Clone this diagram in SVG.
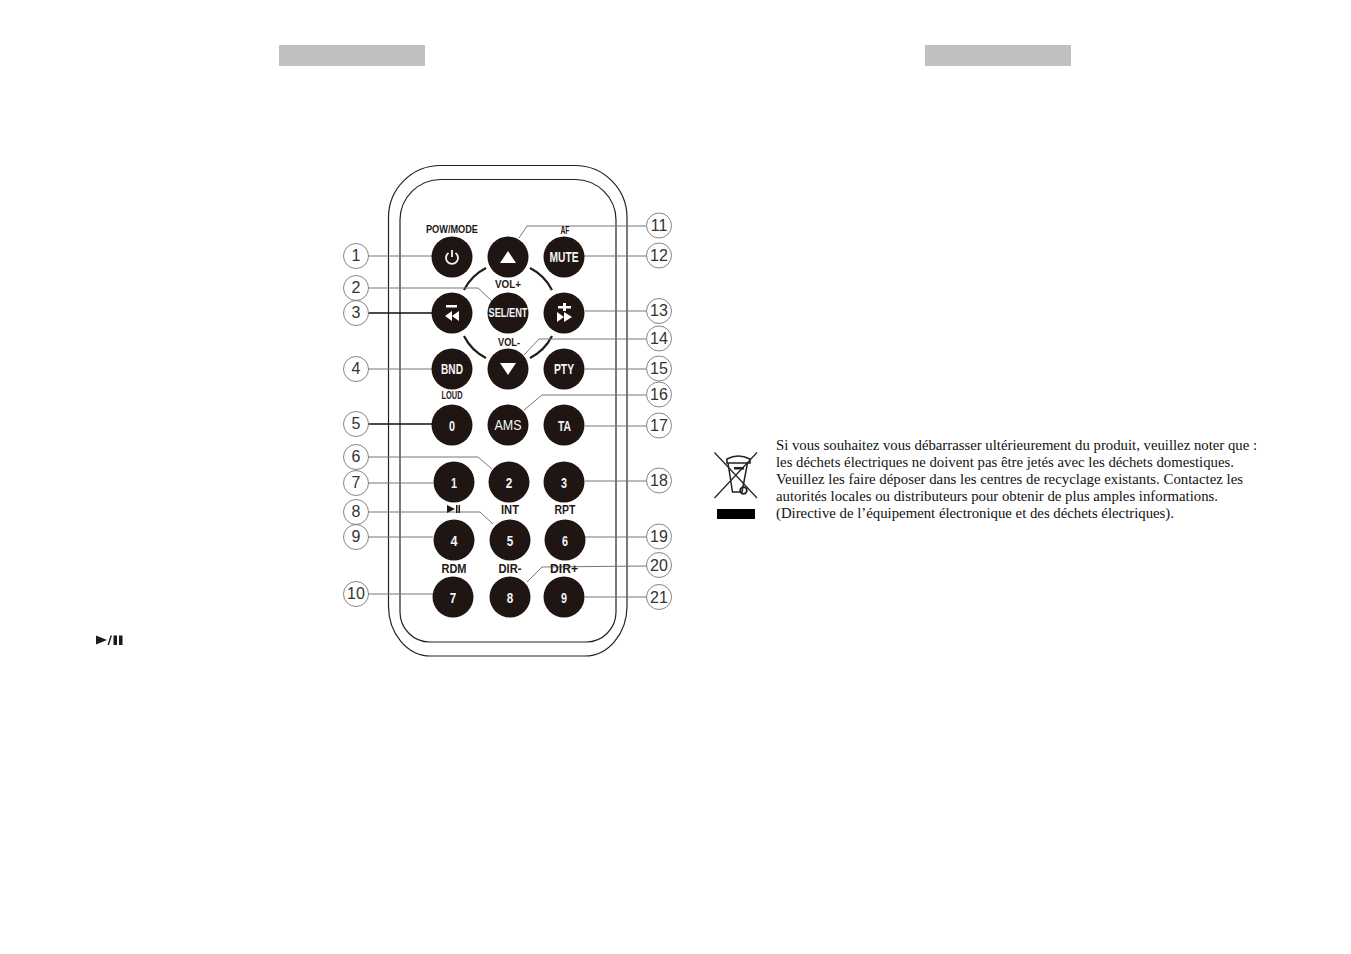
<svg xmlns="http://www.w3.org/2000/svg" width="1351" height="954" viewBox="0 0 1351 954">
<style>
.bar{fill:#c0c0c0}
.body{fill:none;stroke:#222;stroke-width:1.2}
.btn{fill:#1f1614}
.w{fill:#fff}
.bt{font-family:"Liberation Sans",Arial,sans-serif;font-weight:700;fill:#f4f4f4;text-anchor:middle}
.lb{font-family:"Liberation Sans",Arial,sans-serif;font-weight:700;fill:#231815;text-anchor:middle;font-size:11px}
.num{font-family:"Liberation Sans",Arial,sans-serif;fill:#333;text-anchor:middle;font-size:16px}
.co{fill:#fff;stroke:#666;stroke-width:.8}
.ln{fill:none;stroke:#777;stroke-width:1}
.dk{fill:none;stroke:#111;stroke-width:1.3}
.arc{fill:none;stroke:#231815;stroke-width:2.2}
.p{font-family:"Liberation Serif","Times New Roman",serif;font-size:14.5px;fill:#111}
</style>
<rect class="bar" x="279" y="45" width="146" height="21"/>
<rect class="bar" x="925" y="45" width="146" height="21"/>
<g id="remote-body">
<path class="body" d="M388.500 217A52 52 0 0 1 440.500 165.500H575A52 52 0 0 1 627 217V606A42 50 0 0 1 585 656H430.500A42 50 0 0 1 388.500 606Z"/>
<path class="body" d="M400 220A41 40.500 0 0 1 441 179.500H575A41 40.500 0 0 1 616 220V612A30 30 0 0 1 586 642H430A30 30 0 0 1 400 612Z"/>
<path class="arc" d="M486 268A50 50 0 0 0 464 290M530 268A50 50 0 0 1 552 290M464 336A50 50 0 0 0 486 358M552 336A50 50 0 0 1 530 358"/>
</g>
<g id="connectors">
<path class="ln" d="M368 256H432"/>
<path class="ln" d="M368 288H478L492 301"/>
<path class="dk" d="M368 313H432"/>
<path class="ln" d="M368 369H432"/>
<path class="dk" d="M368 424H432"/>
<path class="ln" d="M368 457H478L492 469"/>
<path class="ln" d="M368 483H433"/>
<path class="ln" d="M368 512H480L493 524"/>
<path class="ln" d="M368 537H433"/>
<path class="ln" d="M368 594H433"/>
<path class="ln" d="M646 226H527L519 238"/>
<path class="ln" d="M584 256H646"/>
<path class="ln" d="M585 311H646"/>
<path class="ln" d="M646 339H539L524 355"/>
<path class="ln" d="M585 369H646"/>
<path class="ln" d="M646 395H542L524 410"/>
<path class="ln" d="M585 426H647"/>
<path class="ln" d="M585 481H647"/>
<path class="ln" d="M585 537H647"/>
<path class="ln" d="M647 566L542 567L527 582"/>
<path class="ln" d="M585 597H647"/>
</g>
<g id="labels">
<text class="lb" x="452" y="233" textLength="52" lengthAdjust="spacingAndGlyphs">POW/MODE</text>
<text class="lb" x="565" y="234" textLength="9" lengthAdjust="spacingAndGlyphs">AF</text>
<text class="lb" x="508" y="288" textLength="26" lengthAdjust="spacingAndGlyphs">VOL+</text>
<text class="lb" x="509" y="346" textLength="22" lengthAdjust="spacingAndGlyphs">VOL-</text>
<text class="lb" x="452" y="399" textLength="21" lengthAdjust="spacingAndGlyphs">LOUD</text>
<text class="lb" x="510" y="514" textLength="18" lengthAdjust="spacingAndGlyphs" style="font-size:13px">INT</text>
<text class="lb" x="565" y="514" textLength="21" lengthAdjust="spacingAndGlyphs" style="font-size:13px">RPT</text>
<text class="lb" x="454" y="573" textLength="25" lengthAdjust="spacingAndGlyphs" style="font-size:13px">RDM</text>
<text class="lb" x="510" y="573" textLength="23" lengthAdjust="spacingAndGlyphs" style="font-size:13px">DIR-</text>
<text class="lb" x="564" y="573" textLength="28" lengthAdjust="spacingAndGlyphs" style="font-size:13px">DIR+</text>
<path fill="#231815" d="M447 505L455 509L447 513ZM456 505H457.500V513H456ZM458.500 505H460V513H458.500Z"/>
</g>
<g id="btn-power"><circle class="btn" cx="452" cy="257" r="20.500"/><path d="M448.500 253A6 6 0 1 0 455.500 253" fill="none" stroke="#f4f4f4" stroke-width="1.800"/><path d="M452 250V257" stroke="#f4f4f4" stroke-width="1.800"/></g>
<g id="btn-up"><circle class="btn" cx="508" cy="257" r="20.500"/><path class="w" d="M508 251L516 263H500Z"/></g>
<g id="btn-mute"><circle class="btn" cx="564" cy="257" r="20.500"/><text class="bt" x="564" y="262" font-size="14" textLength="29" lengthAdjust="spacingAndGlyphs">MUTE</text></g>
<g id="btn-prev"><circle class="btn" cx="452" cy="313" r="20.500"/><rect class="w" x="446" y="305" width="11" height="2.500"/><path class="w" d="M445 316L452 311V321ZM452 316L459 311V321Z"/></g>
<g id="btn-sel"><circle class="btn" cx="508" cy="313" r="20.500"/><text class="bt" x="508" y="317" font-size="12.500" textLength="39" lengthAdjust="spacingAndGlyphs">SEL/ENT</text></g>
<g id="btn-next"><circle class="btn" cx="564" cy="313" r="20.500"/><path class="w" d="M563 303H566V306H571V308.500H566V311H563V308.500H558V306H563ZM557 312L564 317L557 322ZM564 312L572 317L564 322Z"/></g>
<g id="btn-bnd"><circle class="btn" cx="452" cy="369" r="20.500"/><text class="bt" x="452" y="374" font-size="14" textLength="22" lengthAdjust="spacingAndGlyphs">BND</text></g>
<g id="btn-down"><circle class="btn" cx="508" cy="369" r="20.500"/><path class="w" d="M500 363H516L508 375Z"/></g>
<g id="btn-pty"><circle class="btn" cx="564" cy="369" r="20.500"/><text class="bt" x="564" y="374" font-size="14" textLength="20" lengthAdjust="spacingAndGlyphs">PTY</text></g>
<g id="btn-0"><circle class="btn" cx="452" cy="425" r="20.500"/><text class="bt" x="452" y="431" font-size="15" textLength="6" lengthAdjust="spacingAndGlyphs">0</text></g>
<g id="btn-ams"><circle class="btn" cx="508" cy="425" r="20.500"/><text class="bt" x="508" y="430" font-size="14" style="font-weight:400" textLength="27" lengthAdjust="spacingAndGlyphs">AMS</text></g>
<g id="btn-ta"><circle class="btn" cx="564" cy="425" r="20.500"/><text class="bt" x="564.500" y="430.500" font-size="15" textLength="13" lengthAdjust="spacingAndGlyphs">TA</text></g>
<g id="btn-1"><circle class="btn" cx="454" cy="482" r="20.500"/><text class="bt" x="454" y="487.500" font-size="15" textLength="6" lengthAdjust="spacingAndGlyphs">1</text></g>
<g id="btn-2"><circle class="btn" cx="509" cy="482" r="20.500"/><text class="bt" x="509" y="487.500" font-size="15" textLength="6.500" lengthAdjust="spacingAndGlyphs">2</text></g>
<g id="btn-3"><circle class="btn" cx="564" cy="482" r="20.500"/><text class="bt" x="564" y="487.500" font-size="15" textLength="6" lengthAdjust="spacingAndGlyphs">3</text></g>
<g id="btn-4"><circle class="btn" cx="454" cy="540" r="20.500"/><text class="bt" x="454" y="545.500" font-size="15" textLength="7" lengthAdjust="spacingAndGlyphs">4</text></g>
<g id="btn-5"><circle class="btn" cx="510" cy="540" r="20.500"/><text class="bt" x="510" y="545.500" font-size="15" textLength="6.500" lengthAdjust="spacingAndGlyphs">5</text></g>
<g id="btn-6"><circle class="btn" cx="565" cy="540" r="20.500"/><text class="bt" x="565" y="545.500" font-size="15" textLength="6" lengthAdjust="spacingAndGlyphs">6</text></g>
<g id="btn-7"><circle class="btn" cx="453" cy="597" r="20.500"/><text class="bt" x="453" y="602.500" font-size="15" textLength="6.500" lengthAdjust="spacingAndGlyphs">7</text></g>
<g id="btn-8"><circle class="btn" cx="510" cy="597" r="20.500"/><text class="bt" x="510" y="602.500" font-size="15" textLength="6.500" lengthAdjust="spacingAndGlyphs">8</text></g>
<g id="btn-9"><circle class="btn" cx="564" cy="597" r="20.500"/><text class="bt" x="564" y="602.500" font-size="15" textLength="6" lengthAdjust="spacingAndGlyphs">9</text></g>
<g id="c1"><circle class="co" cx="356" cy="256" r="12.500"/><text class="num" x="356" y="261">1</text></g>
<g id="c2"><circle class="co" cx="356" cy="288" r="12.500"/><text class="num" x="356" y="293">2</text></g>
<g id="c3"><circle class="co" cx="356" cy="313" r="12.500"/><text class="num" x="356" y="318">3</text></g>
<g id="c4"><circle class="co" cx="356" cy="369" r="12.500"/><text class="num" x="356" y="374">4</text></g>
<g id="c5"><circle class="co" cx="356" cy="424" r="12.500"/><text class="num" x="356" y="429">5</text></g>
<g id="c6"><circle class="co" cx="356" cy="457" r="12.500"/><text class="num" x="356" y="462">6</text></g>
<g id="c7"><circle class="co" cx="356" cy="483" r="12.500"/><text class="num" x="356" y="488">7</text></g>
<g id="c8"><circle class="co" cx="356" cy="512" r="12.500"/><text class="num" x="356" y="517">8</text></g>
<g id="c9"><circle class="co" cx="356" cy="537" r="12.500"/><text class="num" x="356" y="542">9</text></g>
<g id="c10"><circle class="co" cx="356" cy="594" r="12.500"/><text class="num" x="356" y="599">10</text></g>
<g id="c11"><circle class="co" cx="659" cy="225.500" r="12.500"/><text class="num" x="659" y="231">11</text></g>
<g id="c12"><circle class="co" cx="659" cy="255.500" r="12.500"/><text class="num" x="659" y="261">12</text></g>
<g id="c13"><circle class="co" cx="659" cy="311" r="12.500"/><text class="num" x="659" y="316">13</text></g>
<g id="c14"><circle class="co" cx="659" cy="338.500" r="12.500"/><text class="num" x="659" y="344">14</text></g>
<g id="c15"><circle class="co" cx="659" cy="368.500" r="12.500"/><text class="num" x="659" y="374">15</text></g>
<g id="c16"><circle class="co" cx="659" cy="394.500" r="12.500"/><text class="num" x="659" y="400">16</text></g>
<g id="c17"><circle class="co" cx="659" cy="425.500" r="12.500"/><text class="num" x="659" y="431">17</text></g>
<g id="c18"><circle class="co" cx="659" cy="480.500" r="12.500"/><text class="num" x="659" y="486">18</text></g>
<g id="c19"><circle class="co" cx="659" cy="536.500" r="12.500"/><text class="num" x="659" y="542">19</text></g>
<g id="c20"><circle class="co" cx="659" cy="565" r="12.500"/><text class="num" x="659" y="570.500">20</text></g>
<g id="c21"><circle class="co" cx="659" cy="597" r="12.500"/><text class="num" x="659" y="602.500">21</text></g>
<g id="weee-icon">
<path d="M714.500 452.500L757 498M757 452.500L714.500 498" stroke="#222" stroke-width="1.200" fill="none"/>
<path d="M727 463V459Q738 453 750 459V463Z" fill="none" stroke="#222" stroke-width="1.600"/>
<path d="M728 463L732.500 492H742L747.500 463" fill="none" stroke="#222" stroke-width="1.500"/>
<rect x="734" y="467" width="10" height="2.500" fill="#222"/>
<circle cx="743.500" cy="490.500" r="3.300" fill="none" stroke="#222" stroke-width="1.800"/>
<rect x="717" y="509" width="38" height="10" fill="#000"/>
</g>
<g id="notice">
<text class="p" x="776" y="450" textLength="481" lengthAdjust="spacingAndGlyphs">Si vous souhaitez vous débarrasser ultérieurement du produit, veuillez noter que :</text>
<text class="p" x="776" y="467" textLength="458" lengthAdjust="spacingAndGlyphs">les déchets électriques ne doivent pas être jetés avec les déchets domestiques.</text>
<text class="p" x="776" y="484" textLength="467" lengthAdjust="spacingAndGlyphs">Veuillez les faire déposer dans les centres de recyclage existants. Contactez les</text>
<text class="p" x="776" y="501" textLength="442" lengthAdjust="spacingAndGlyphs">autorités locales ou distributeurs pour obtenir de plus amples informations.</text>
<text class="p" x="776" y="518" textLength="398" lengthAdjust="spacingAndGlyphs">(Directive de l’équipement électronique et des déchets électriques).</text>
</g>
<path id="play-pause" fill="#231815" d="M96 635.500L107 640L96 644.500ZM110.500 635.500H112L109 645H107.500ZM113.500 635.500H117V645H113.500ZM119 635.500H122.500V645H119Z"/>
</svg>
